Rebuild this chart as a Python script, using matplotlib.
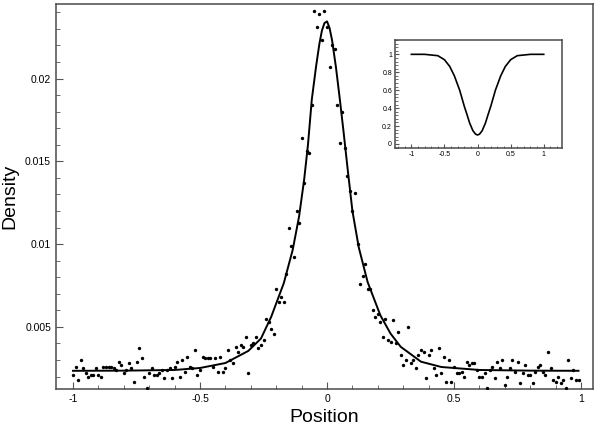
import matplotlib
matplotlib.use('Agg')
import matplotlib.pyplot as plt
from matplotlib.ticker import FixedLocator, MultipleLocator

plt.rcParams['font.family'] = ['Liberation Sans', 'DejaVu Sans']

# measured points (x every 0.01 from -1 to 0.99)
pos_left = [-1.00, -0.99, -0.98, -0.97, -0.96, -0.95, -0.94, -0.93, -0.92, -0.91,
            -0.90, -0.89, -0.88, -0.87, -0.86, -0.85, -0.84, -0.83, -0.82, -0.81,
            -0.80, -0.79, -0.78, -0.77, -0.76, -0.75, -0.74, -0.73, -0.72, -0.71,
            -0.70, -0.69, -0.68, -0.67, -0.66, -0.65, -0.64, -0.63, -0.62, -0.61,
            -0.60, -0.59, -0.58, -0.57, -0.56, -0.55, -0.54, -0.53, -0.52, -0.51]
dens_left = [0.0021, 0.0026, 0.0018, 0.0030, 0.0025, 0.0022, 0.0020, 0.0021, 0.0021, 0.0025,
             0.0021, 0.0020, 0.0026, 0.0026, 0.0026, 0.0026, 0.0025, 0.0024, 0.0029, 0.0027,
             0.0022, 0.0024, 0.0028, 0.0025, 0.0017, 0.0029, 0.0037, 0.0031, 0.0020, 0.0013,
             0.0022, 0.0025, 0.0021, 0.0021, 0.0022, 0.0024, 0.0019, 0.0024, 0.0025, 0.0019,
             0.0026, 0.0029, 0.0020, 0.0030, 0.0023, 0.0032, 0.0026, 0.0025, 0.0036, 0.0021]

pos_mid_l = [-0.50, -0.49, -0.48, -0.47, -0.46, -0.45, -0.44, -0.43, -0.42, -0.41,
             -0.40, -0.39, -0.38, -0.37, -0.36, -0.35, -0.34, -0.33, -0.32, -0.31,
             -0.30, -0.29, -0.28, -0.27, -0.26, -0.25, -0.24, -0.23, -0.22, -0.21,
             -0.20, -0.19, -0.18, -0.17, -0.16, -0.15, -0.14, -0.13, -0.12, -0.11,
             -0.10, -0.09, -0.08, -0.07, -0.06, -0.05, -0.04, -0.03, -0.02, -0.01]
dens_mid_l = [0.0024, 0.0032, 0.0031, 0.0031, 0.0031, 0.0026, 0.0031, 0.0023, 0.0032, 0.0023,
              0.0025, 0.0036, 0.0030, 0.0028, 0.0038, 0.0035, 0.0039, 0.0038, 0.0044, 0.0022,
              0.0039, 0.0040, 0.0044, 0.0037, 0.0039, 0.0042, 0.0055, 0.0053, 0.0049, 0.0046,
              0.0073, 0.0065, 0.0068, 0.0065, 0.0082, 0.0110, 0.0099, 0.0092, 0.0120, 0.0113,
              0.0164, 0.0137, 0.0156, 0.0155, 0.0184, 0.0241, 0.0231, 0.0239, 0.0223, 0.0241]

pos_mid_r = [0.00, 0.01, 0.02, 0.03, 0.04, 0.05, 0.06, 0.07, 0.08, 0.09,
             0.10, 0.11, 0.12, 0.13, 0.14, 0.15, 0.16, 0.17, 0.18, 0.19,
             0.20, 0.21, 0.22, 0.23, 0.24, 0.25, 0.26, 0.27, 0.28, 0.29,
             0.30, 0.31, 0.32, 0.33, 0.34, 0.35, 0.36, 0.37, 0.38, 0.39,
             0.40, 0.41, 0.42, 0.43, 0.44, 0.45, 0.46, 0.47, 0.48, 0.49, 0.50]
dens_mid_r = [0.0231, 0.0207, 0.0220, 0.0218, 0.0184, 0.0161, 0.0180, 0.0158, 0.0141, 0.0132,
              0.0120, 0.0131, 0.0100, 0.0076, 0.0081, 0.0088, 0.0073, 0.0073, 0.0060, 0.0056,
              0.0058, 0.0053, 0.0044, 0.0055, 0.0042, 0.0041, 0.0054, 0.0040, 0.0047, 0.0033,
              0.0027, 0.0030, 0.0050, 0.0028, 0.0030, 0.0025, 0.0033, 0.0036, 0.0035, 0.0019,
              0.0033, 0.0036, 0.0025, 0.0021, 0.0037, 0.0022, 0.0032, 0.0017, 0.0030, 0.0017, 0.0026]

pos_right = [0.51, 0.52, 0.53, 0.54, 0.55, 0.56, 0.57, 0.58, 0.59, 0.60,
             0.61, 0.62, 0.63, 0.64, 0.65, 0.66, 0.67, 0.68, 0.69, 0.70,
             0.71, 0.72, 0.73, 0.74, 0.75, 0.76, 0.77, 0.78, 0.79, 0.80,
             0.81, 0.82, 0.83, 0.84, 0.85, 0.86, 0.87, 0.88, 0.89, 0.90,
             0.91, 0.92, 0.93, 0.94, 0.95, 0.96, 0.97, 0.98, 0.99]
dens_right = [0.0022, 0.0022, 0.0023, 0.0020, 0.0029, 0.0027, 0.0028, 0.0028, 0.0024, 0.0020,
              0.0020, 0.0022, 0.0013, 0.0024, 0.0026, 0.0019, 0.0029, 0.0025, 0.0030, 0.0015,
              0.0020, 0.0025, 0.0030, 0.0023, 0.0029, 0.0016, 0.0022, 0.0027, 0.0021, 0.0021,
              0.0016, 0.0023, 0.0026, 0.0027, 0.0023, 0.0021, 0.0035, 0.0025, 0.0018, 0.0017,
              0.0020, 0.0016, 0.0018, 0.0013, 0.0030, 0.0019, 0.0024, 0.0018, 0.0018]

# fitted curve
fit_x = [-1.0, -0.8, -0.6, -0.5, -0.4, -0.31, -0.26, -0.22, -0.17, -0.135,
         -0.11, -0.09, -0.075, -0.06, -0.043, -0.03, -0.02, -0.01, 0.0, 0.01,
         0.02, 0.035, 0.05, 0.065, 0.08, 0.1, 0.125, 0.16, 0.21, 0.25,
         0.29, 0.37, 0.45, 0.6, 0.8, 0.99]
fit_y = [0.00235, 0.00236, 0.00240, 0.00252, 0.00282, 0.00355, 0.00430, 0.00560, 0.00765, 0.00966,
         0.01167, 0.01390, 0.01600, 0.01872, 0.02074, 0.02210, 0.02290, 0.02335, 0.02345, 0.02305,
         0.02230, 0.02070, 0.01880, 0.01680, 0.01470, 0.01200, 0.00980, 0.00770, 0.00570, 0.00460,
         0.00380, 0.00290, 0.00258, 0.00240, 0.00236, 0.00235]

# inset curve
inset_x = [-1.0, -0.8, -0.6, -0.5, -0.42, -0.35, -0.27, -0.2, -0.16, -0.12,
           -0.07, -0.03, 0.0, 0.03, 0.07, 0.12, 0.16, 0.2, 0.27, 0.35,
           0.42, 0.5, 0.6, 0.8, 1.0]
inset_y = [1.0, 1.0, 0.985, 0.94, 0.865, 0.76, 0.6, 0.42, 0.33, 0.235,
           0.148, 0.11, 0.1, 0.11, 0.148, 0.235, 0.33, 0.42, 0.6, 0.76,
           0.865, 0.94, 0.985, 1.0, 1.0]

x_ticks = [-1, -0.5, 0, 0.5, 1]
x_labels = ['-1', '-0.5', '0', '0.5', '1']
y_ticks = [0.005, 0.01, 0.015, 0.02]
y_labels = ['0.005', '0.01', '0.015', '0.02']
inset_yticks = [0, 0.2, 0.4, 0.6, 0.8, 1]
inset_ylabels = ['0', '0.2', '0.4', '0.6', '0.8', '1']

frame = '#4a4a4a'


def style_axes(ax, size, major, minor):
    for s in ax.spines.values():
        s.set_color(frame)
        s.set_linewidth(1.1)
    ax.tick_params(which='both', direction='in', colors='#555555', labelcolor='black',
                   labelsize=size, top=False, right=False)
    ax.tick_params(which='major', length=major, width=0.8)
    ax.tick_params(which='minor', length=minor, width=0.6)


fig = plt.figure(figsize=(6, 4.3), dpi=100)
ax = fig.add_axes([0.0933, 0.0953, 0.895, 0.8954])

xs = pos_left + pos_mid_l + pos_mid_r + pos_right
ys = dens_left + dens_mid_l + dens_mid_r + dens_right
ax.scatter(xs, ys, s=6, color='black', zorder=3, linewidths=0)
ax.plot(fit_x, fit_y, color='black', lw=1.4, zorder=2)

ax.set_xlim(-1.067, 1.047)
ax.set_ylim(0.00125, 0.0245)
ax.xaxis.set_major_locator(FixedLocator(x_ticks))
ax.set_xticklabels(x_labels)
ax.yaxis.set_major_locator(FixedLocator(y_ticks))
ax.set_yticklabels(y_labels)
ax.xaxis.set_minor_locator(MultipleLocator(0.1))
ax.yaxis.set_minor_locator(MultipleLocator(0.001))
style_axes(ax, 7.5, 5, 3)
ax.set_xlabel('Position', fontsize=14, labelpad=4)
ax.set_ylabel('Density', fontsize=14, labelpad=5)

ins = fig.add_axes([0.658, 0.656, 0.278, 0.251])
ins.plot(inset_x, inset_y, color='black', lw=1.2)
ins.set_xlim(-1.25, 1.27)
ins.set_ylim(-0.044, 1.16)
ins.xaxis.set_major_locator(FixedLocator(x_ticks))
ins.set_xticklabels(x_labels)
ins.yaxis.set_major_locator(FixedLocator(inset_yticks))
ins.set_yticklabels(inset_ylabels)
ins.xaxis.set_minor_locator(MultipleLocator(0.1))
ins.yaxis.set_minor_locator(MultipleLocator(0.04))
style_axes(ins, 5, 3, 1.8)
ins.tick_params(pad=2)

fig.savefig('out.png', dpi=100)
